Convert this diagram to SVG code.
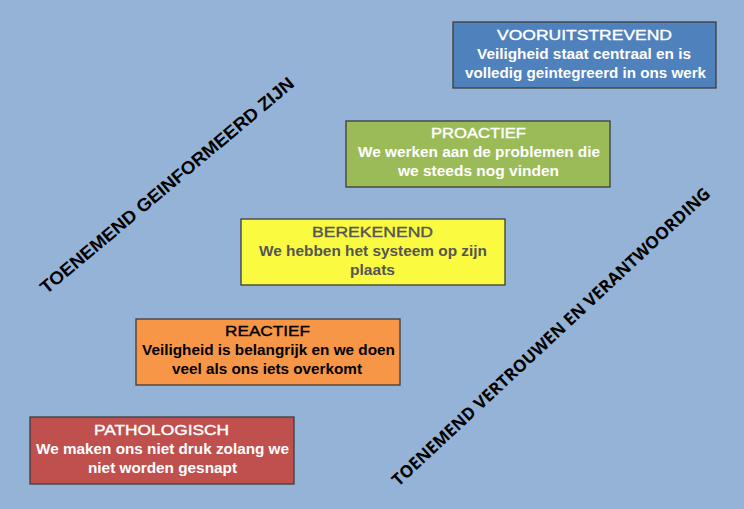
<svg xmlns="http://www.w3.org/2000/svg" width="744" height="509" viewBox="0 0 744 509">
<style>
.box{stroke:#3c3c3c;stroke-width:1.3}
.t{font-family:"Liberation Sans",Arial,sans-serif;font-size:15.5px;text-anchor:middle;stroke-width:0.4}
.b{font-family:"Liberation Sans",Arial,sans-serif;font-size:15px;font-weight:bold;text-anchor:middle}
.rot{font-weight:bold;fill:#000;text-anchor:middle}
</style>
<rect width="744" height="509" fill="#95B3D6"/>
<g id="vooruitstrevend">
<rect class="box" x="453" y="22" width="263" height="66" fill="#4F81BD"/>
<text class="t" x="584.5" y="39.5" fill="#fff" stroke="#fff" textLength="175" lengthAdjust="spacingAndGlyphs">VOORUITSTREVEND</text>
<text class="b" x="584" y="58.5" fill="#fff" textLength="214" lengthAdjust="spacingAndGlyphs">Veiligheid staat centraal en is</text>
<text class="b" x="585.5" y="77.5" fill="#fff" textLength="241" lengthAdjust="spacingAndGlyphs">volledig geintegreerd in ons werk</text>
</g>
<g id="proactief">
<rect class="box" x="346" y="121" width="264" height="66" fill="#9BBB59"/>
<text class="t" x="478.5" y="138" fill="#fff" stroke="#fff" textLength="95" lengthAdjust="spacingAndGlyphs">PROACTIEF</text>
<text class="b" x="479" y="157" fill="#fff" textLength="242" lengthAdjust="spacingAndGlyphs">We werken aan de problemen die</text>
<text class="b" x="478.5" y="176" fill="#fff" textLength="161" lengthAdjust="spacingAndGlyphs">we steeds nog vinden</text>
</g>
<g id="berekenend">
<rect class="box" x="241" y="219" width="264" height="66" fill="#FAFA40"/>
<text class="t" x="372.5" y="236.5" fill="#555" stroke="#555" textLength="121" lengthAdjust="spacingAndGlyphs">BEREKENEND</text>
<text class="b" x="373" y="255.5" fill="#555" textLength="228" lengthAdjust="spacingAndGlyphs">We hebben het systeem op zijn</text>
<text class="b" x="372.5" y="274.5" fill="#555" textLength="45" lengthAdjust="spacingAndGlyphs">plaats</text>
</g>
<g id="reactief">
<rect class="box" x="136" y="319" width="264" height="66" fill="#F79646"/>
<text class="t" x="267.5" y="336" fill="#000" stroke="#000" textLength="85" lengthAdjust="spacingAndGlyphs">REACTIEF</text>
<text class="b" x="268.5" y="355" fill="#000" textLength="253" lengthAdjust="spacingAndGlyphs">Veiligheid is belangrijk en we doen</text>
<text class="b" x="267" y="374" fill="#000" textLength="190" lengthAdjust="spacingAndGlyphs">veel als ons iets overkomt</text>
</g>
<g id="pathologisch">
<rect class="box" x="30" y="417" width="264" height="67" fill="#C0504D"/>
<text class="t" x="161.5" y="434.5" fill="#fff" stroke="#fff" textLength="135" lengthAdjust="spacingAndGlyphs">PATHOLOGISCH</text>
<text class="b" x="162.5" y="453.5" fill="#fff" textLength="253" lengthAdjust="spacingAndGlyphs">We maken ons niet druk zolang we</text>
<text class="b" x="162.5" y="472.5" fill="#fff" textLength="149" lengthAdjust="spacingAndGlyphs">niet worden gesnapt</text>
</g>
<g id="labels">
<text class="rot" font-size="18" style="font-family:'Liberation Sans',Arial,sans-serif" transform="translate(171,190) rotate(-40)" textLength="325" lengthAdjust="spacingAndGlyphs">TOENEMEND GEINFORMEERD ZIJN</text>
<text class="rot" font-size="17" style="font-family:'Open Sans',sans-serif" transform="translate(555,341) rotate(-43)" textLength="428" lengthAdjust="spacingAndGlyphs">TOENEMEND VERTROUWEN EN VERANTWOORDING</text>
</g>
</svg>
